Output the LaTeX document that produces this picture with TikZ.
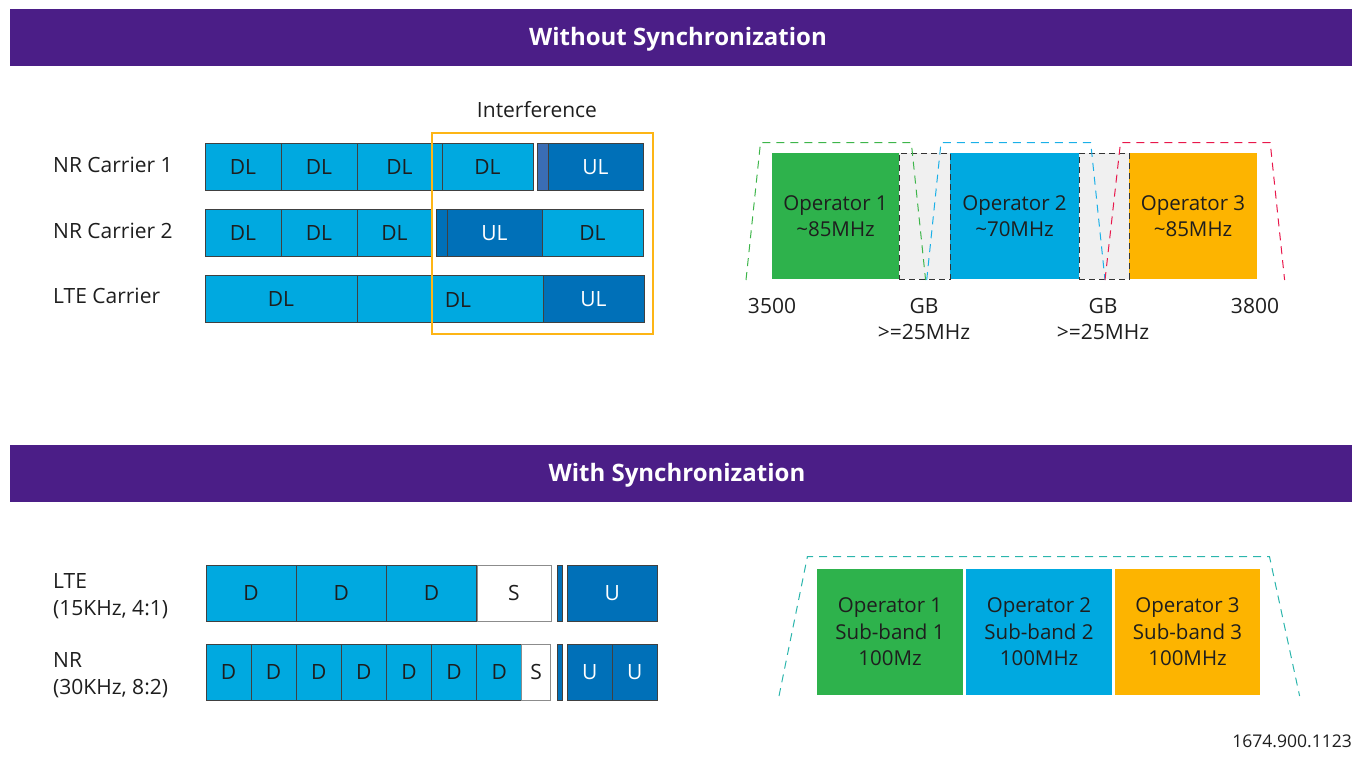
\documentclass[tikz,border=0pt]{standalone}
\usepackage{fontspec}
\setmainfont{Open Sans}
\definecolor{barpurple}{HTML}{4B1E87}
\definecolor{dlblue}{HTML}{00A9E0}
\definecolor{ulblue}{HTML}{0070B8}
\definecolor{guardblue}{HTML}{3A6DB5}
\definecolor{opgreen}{HTML}{2EB24C}
\definecolor{oporange}{HTML}{FDB400}
\definecolor{gbgray}{HTML}{F0F0F0}
\definecolor{ifcorange}{HTML}{FDB515}
\definecolor{txtgray}{HTML}{1E1E1E}
\definecolor{mgreen}{HTML}{3DB54A}
\definecolor{mcyan}{HTML}{1AB0E8}
\definecolor{mred}{HTML}{E8174B}
\definecolor{mteal}{HTML}{2BB5AC}
\begin{document}
\begin{tikzpicture}[x=1pt,y=-1pt,
  txt/.style={text=txtgray,font=\fontsize{21}{26.5}\selectfont,inner sep=0pt},
  cell/.style={txt,draw=black!75,line width=0.8pt,anchor=north west,outer sep=0pt},
  dl/.style={cell,fill=dlblue},
  ul/.style={cell,fill=ulblue,text=white},
  sp/.style={cell,fill=white,draw=black!45},
  band/.style={txt,anchor=north west,align=center,outer sep=0pt,font=\fontsize{20.5}{26.5}\selectfont},
  gb/.style={band,fill=gbgray,draw=black!80,dash pattern=on 6pt off 4pt,line width=0.9pt},
  headbar/.style={fill=barpurple},
  headtext/.style={text=white,font=\fontsize{24}{28}\selectfont\bfseries},
  mask/.style={dash pattern=on 8pt off 6pt,line width=1pt}]
\useasboundingbox (0,0) rectangle (1355,782);
\pgfmathsetmacro{\kh}{47.5}
\pgfmathsetmacro{\kb}{126}
\pgfmathsetmacro{\kr}{56}
% without synchronization
\fill[headbar] (10,9) rectangle (1352,66);
\node[headtext] (hdrtop) at (678,39) {Without Synchronization};
\node[txt,anchor=west] (lnr1) at (53,165) {NR Carrier 1};
\node[txt,anchor=west] (lnr2) at (53,231) {NR Carrier 2};
\node[txt,anchor=west] (llte) at (53,296) {LTE Carrier};
\foreach \a/\b/\s/\t [count=\i] in {205/281/dl/DL,281/357/dl/DL,357/442/dl/DL,442/533/dl/DL,548/643/ul/UL}
  \node[\s,minimum width=\b-\a,minimum height=\kh] (ra\i) at (\a,143) {\t};
\node[cell,fill=guardblue,minimum width=11,minimum height=\kh] (rag) at (537,143) {};
\foreach \a/\b/\s/\t [count=\i] in {205/281/dl/DL,281/357/dl/DL,357/432/dl/DL,447/542/ul/UL,542/643/dl/DL}
  \node[\s,minimum width=\b-\a,minimum height=\kh] (rb\i) at (\a,209) {\t};
\node[cell,fill=ulblue,minimum width=11,minimum height=\kh] (rbg) at (436,209) {};
\node[dl,minimum width=152,minimum height=\kh] (rc1) at (205,275) {DL};
\node[dl,minimum width=186,minimum height=\kh] (rc2) at (357,275) {};
\node[txt] (rc2t) at (458,300) {DL};
\node[ul,minimum width=101,minimum height=\kh] (rc3) at (543,275) {UL};
\draw[ifcorange,line width=1.6pt] (432,133) rectangle (653,334);
\node[txt] (ifc) at (537,110) {Interference};
\node[band,fill=opgreen,minimum width=127,minimum height=\kb] (op1) at (772,153) {Operator 1\\\textasciitilde85MHz};
\node[band,fill=dlblue,minimum width=129,minimum height=\kb] (op2) at (950,153) {Operator 2\\\textasciitilde70MHz};
\node[band,fill=oporange,minimum width=128,minimum height=\kb] (op3) at (1129,153) {Operator 3\\\textasciitilde85MHz};
\node[gb,minimum width=51,minimum height=\kb] (gb1) at (899,153) {};
\node[gb,minimum width=50,minimum height=\kb] (gb2) at (1079,153) {};
\draw[mask,mgreen] (746,280)--(760.5,142.7)--(911.3,142.7)--(925.6,280);
\draw[mask,mcyan] (926.7,280)--(941,142.7)--(1090.7,142.7)--(1105,280);
\draw[mask,mred] (1105,280)--(1120.5,142.7)--(1270.2,142.7)--(1284.6,280);
\node[txt] (f3500) at (772,306) {3500};
\node[txt,align=center] (gbl1) at (924,319) {GB\\>=25MHz};
\node[txt,align=center] (gbl2) at (1103,319) {GB\\>=25MHz};
\node[txt] (f3800) at (1255,306) {3800};
% with synchronization
\fill[headbar] (10,445) rectangle (1352,502);
\node[headtext] (hdrbot) at (677,475) {With Synchronization};
\node[txt,anchor=west,align=left] (llte2) at (53,596) {LTE\\(15KHz, 4:1)};
\node[txt,anchor=west,align=left] (lnr) at (53,675) {NR\\(30KHz, 8:2)};
\foreach \i in {0,1,2}
  \node[dl,minimum width=90.2,minimum height=\kr] (lte\i) at ({206+90.2*\i},565) {D};
\node[sp,minimum width=74,minimum height=\kr] (ltes) at (477,565) {S};
\node[cell,fill=ulblue,minimum width=5.5,minimum height=\kr] (lteg) at (557.3,565) {};
\node[ul,minimum width=90,minimum height=\kr] (lteu) at (567.3,565) {U};
\foreach \i in {0,...,6}
  \node[dl,minimum width=45.1,minimum height=\kr] (nr\i) at ({206+45.1*\i},644) {D};
\node[sp,minimum width=29,minimum height=\kr] (nrs) at (521.7,644) {S};
\node[cell,fill=ulblue,minimum width=5.5,minimum height=\kr] (nrg) at (557.3,644) {};
\foreach \i in {0,1}
  \node[ul,minimum width=45,minimum height=\kr] (nru\i) at ({567.3+45*\i},644) {U};
\node[band,fill=opgreen,minimum width=146,minimum height=\kb] (sb1) at (817,569) {Operator 1\\Sub-band 1\\100Mz};
\node[band,fill=dlblue,minimum width=146,minimum height=\kb] (sb2) at (966,569) {Operator 2\\Sub-band 2\\100MHz};
\node[band,fill=oporange,minimum width=145,minimum height=\kb] (sb3) at (1115,569) {Operator 3\\Sub-band 3\\100MHz};
\draw[mask,mteal] (779,696)--(807.4,556.7)--(1269.5,556.7)--(1299.6,696);
\node[txt,anchor=east,font=\fontsize{17.5}{21}\selectfont] (docno) at (1352,741) {1674.900.1123};
\end{tikzpicture}
\end{document}
